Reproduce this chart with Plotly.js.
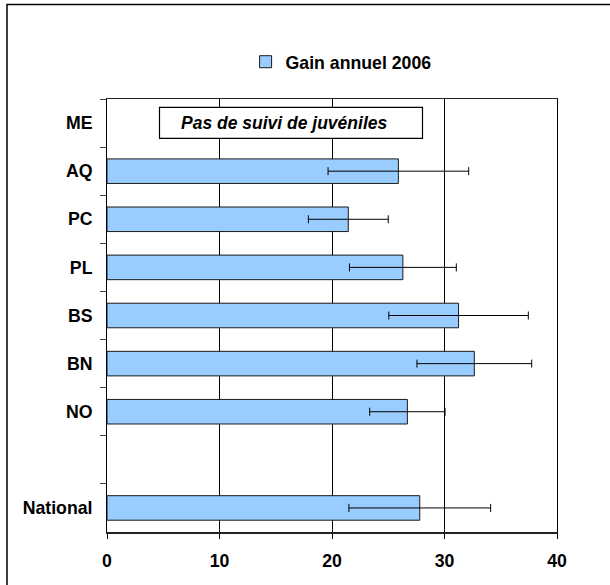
<!DOCTYPE html>
<html>
<head>
<meta charset="utf-8">
<script src="https://cdn.plot.ly/plotly-3.0.1.min.js"></script>
<style>
  html, body { margin: 0; padding: 0; background: #fff; }
  #chart { width: 610px; height: 585px; }
</style>
</head>
<body>
<div id="chart"></div>
<script>
// Categories, top to bottom (" " is the empty slot between NO and National)
const categories = ["ME", "AQ", "PC", "PL", "BS", "BN", "NO", " ", "National"];
// Gain annuel 2006 (mean) and its error (+/-)
const gain2006 = [null, 25.9, 21.45, 26.3, 31.25, 32.65, 26.7, null, 27.8];
const gainError = [null, 6.25, 3.55, 4.75, 6.2, 5.1, 3.35, null, 6.3];
const seriesName = "Gain annuel 2006";
const noteText = "Pas de suivi de juvéniles";
const xTicks = [0, 10, 20, 30, 40];

const baseFont = { family: "Liberation Sans, Arial, sans-serif", size: 17.7, color: "#000", weight: "bold" };

const trace = {
  type: "bar",
  orientation: "h",
  name: seriesName,
  y: categories,
  x: gain2006,
  marker: { color: "#99CCFF", line: { color: "#1a1a1a", width: 1 } },
  error_x: { type: "data", array: gainError, visible: true, color: "#000", thickness: 1, width: 4 },
  hoverinfo: "none"
};

const layout = {
  width: 610,
  height: 585,
  margin: { l: 107, r: 53, t: 99, b: 53 },
  paper_bgcolor: "#fff",
  plot_bgcolor: "#fff",
  font: baseFont,
  bargap: 0.49,
  showlegend: true,
  legend: {
    orientation: "h",
    x: 0.308, xanchor: "left",
    y: 1.085, yanchor: "middle",
    bgcolor: "rgba(0,0,0,0)",
    font: baseFont
  },
  xaxis: {
    range: [0, 40],
    tickvals: xTicks,
    ticks: "outside",
    ticklen: 5,
    tickcolor: "#000",
    ticklabelstandoff: 7,
    showgrid: true,
    gridcolor: "#000",
    gridwidth: 1,
    showline: true,
    linecolor: "#222",
    linewidth: 1.5,
    mirror: true,
    zeroline: false,
    tickfont: baseFont,
    fixedrange: true
  },
  yaxis: {
    type: "category",
    categoryorder: "array",
    categoryarray: categories,
    autorange: "reversed",
    ticks: "outside",
    tickson: "boundaries",
    ticklen: 6,
    tickcolor: "#444",
    ticklabelstandoff: 10,
    showgrid: false,
    showline: true,
    linecolor: "#000",
    linewidth: 1,
    mirror: true,
    tickfont: baseFont,
    fixedrange: true
  },
  shapes: [
    // outer chart frame (left and top edges visible)
    { type: "rect", xref: "paper", yref: "paper",
      x0: (7 - 107) / 450, x1: 1.3, y0: -0.3, y1: (532.5 - 5) / 433,
      line: { color: "#000", width: 1.5 }, fillcolor: "rgba(0,0,0,0)", layer: "above" },
    // note box
    { type: "rect", xref: "paper", yref: "paper",
      x0: (159.5 - 107) / 450, x1: (422.5 - 107) / 450,
      y0: (532 - 138.3) / 433, y1: (532 - 107.3) / 433,
      line: { color: "#000", width: 1.2 }, fillcolor: "#fff", layer: "above" }
  ],
  annotations: [
    { xref: "paper", yref: "paper",
      x: (284 - 107) / 450, y: (532 - 123) / 433,
      xanchor: "center", yanchor: "middle",
      text: "<i>" + noteText + "</i>",
      showarrow: false,
      font: { family: "Liberation Sans, Arial, sans-serif", size: 17.5, color: "#000", weight: "bold", style: "italic" } }
  ]
};

Plotly.newPlot("chart", [trace], layout, { displayModeBar: false, staticPlot: true });
</script>
</body>
</html>
